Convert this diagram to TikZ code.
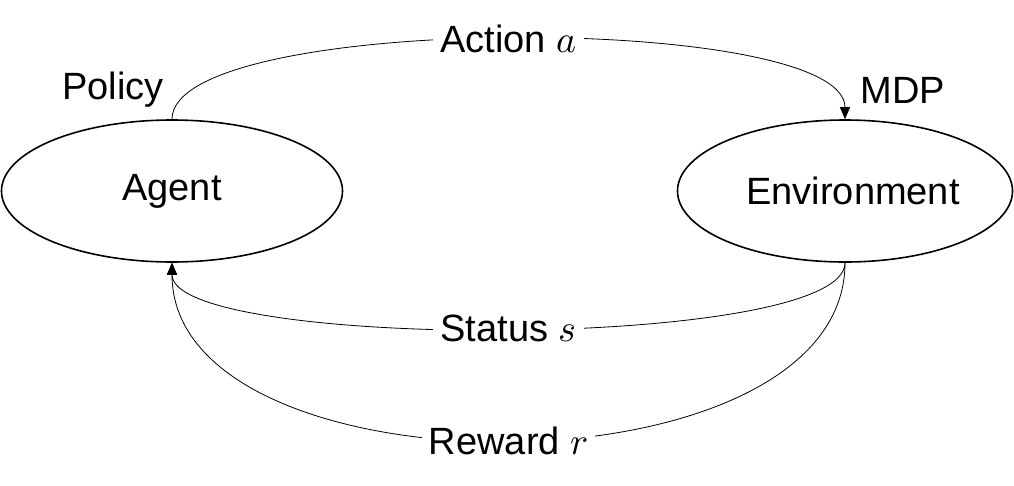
\documentclass[tikz,border=0pt]{standalone}
\usepackage{fontspec}
\usepackage{unicode-math}
\setmainfont{Liberation Sans}
\setmathfont{Latin Modern Math}
\usetikzlibrary{shapes.geometric,arrows.meta}
\begin{document}
\begin{tikzpicture}[x=1pt,y=-1pt,
  every node/.style={font=\fontsize{38}{42}\selectfont},
  blob/.style={draw,ellipse,line width=1.6pt,inner sep=0pt},
  lbl/.style={fill=white,inner sep=7pt},
  conn/.style={line width=0.8pt,-{Triangle[length=12pt,width=10pt]}}]
\useasboundingbox (0,0) rectangle (1014,485);
\node[blob,minimum width=341pt,minimum height=142pt] (agent) at (172,191) {Agent};
\node[blob,minimum width=335pt,minimum height=142pt] (env) at (845,191) {\hspace*{16pt}Environment};
\node (policy) at (113,90) {Policy};
\node (mdp) at (903,90) {MDP};
\draw[conn] (agent.north) .. controls +(0,-107) and +(0,-107) .. node[lbl,midway] (act) {Action $a$} (env.north);
\draw[conn] (env.south) .. controls +(0,88) and +(0,88) .. node[lbl,midway] (st) {Status $s$} (agent.south);
\draw[conn] (env.south) .. controls +(0,237) and +(0,237) .. node[lbl,midway] (rw) {Reward $r$} (agent.south);
\end{tikzpicture}
\end{document}
